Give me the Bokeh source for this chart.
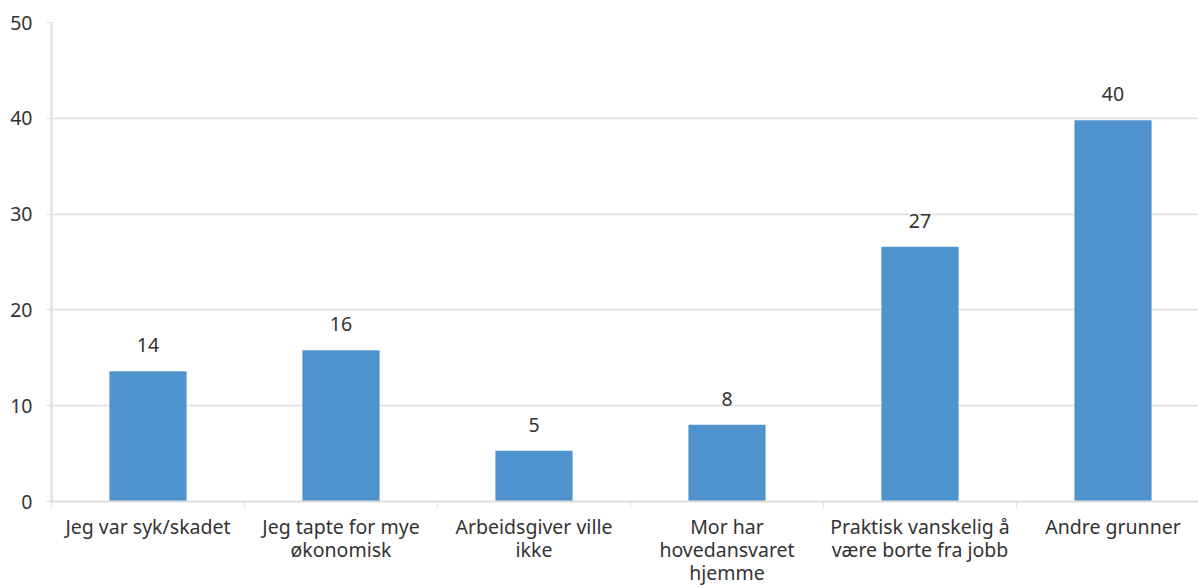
from bokeh.plotting import figure
from bokeh.models import Range1d, FixedTicker, ColumnDataSource
from bokeh.core.properties import value
from bokeh.embed import file_html
from bokeh.resources import INLINE

categories = ["Jeg var syk/skadet", "Jeg tapte for mye\nøkonomisk", "Arbeidsgiver ville\nikke",
              "Mor har\nhovedansvaret\nhjemme", "Praktisk vanskelig å\nvære borte fra jobb", "Andre grunner"]
values = [13.6, 15.8, 5.3, 8.0, 26.6, 39.8]
labels = [str(int(round(v))) for v in values]
y_ticks = [0, 10, 20, 30, 40, 50]

FONT = "Noto Sans"
FS = "19.5px"
TXT = "#333333"
GRID = "#dedede"

xs = [i + 0.5 for i in range(len(categories))]
src = ColumnDataSource(dict(x=xs, top=values, lab=labels))

p = figure(width=1198, height=588, output_backend="svg", toolbar_location=None,
           x_range=Range1d(0, 1147 / 193), y_range=Range1d(0, 50),
           min_border_left=51, min_border_top=22, min_border_bottom=84, min_border_right=0)
p.outline_line_color = None

p.vbar(x="x", top="top", width=0.4, bottom=0, source=src, color="#4F93CE", line_color=None)
p.text(x="x", y="top", text="lab", source=src, text_align="center", text_baseline="alphabetic",
       y_offset=-26, text_font=value(FONT), text_font_size=FS, text_color=TXT)

# x axis
p.xaxis.ticker = FixedTicker(ticks=xs, minor_ticks=list(range(len(categories) + 1)))
p.xaxis.major_label_overrides = {x: c for x, c in zip(xs, categories)}
p.xaxis.major_tick_out = 0
p.xaxis.major_tick_in = 0
p.xaxis.minor_tick_out = 6
p.xaxis.minor_tick_in = 0
p.xaxis.minor_tick_line_color = GRID
p.xaxis.axis_line_color = GRID
p.xaxis.axis_line_width = 2
p.xaxis.major_label_text_font = FONT
p.xaxis.major_label_text_font_size = FS
p.xaxis.major_label_text_color = TXT
p.xaxis.major_label_text_line_height = 0.86
p.xaxis.major_label_standoff = 5
p.xgrid.grid_line_color = None

# y axis
p.yaxis.ticker = FixedTicker(ticks=y_ticks)
p.yaxis.major_tick_out = 5
p.yaxis.major_tick_in = 0
p.yaxis.minor_tick_line_color = None
p.yaxis.major_tick_line_color = GRID
p.yaxis.axis_line_color = GRID
p.yaxis.axis_line_width = 2
p.yaxis.major_label_text_font = FONT
p.yaxis.major_label_text_font_size = FS
p.yaxis.major_label_text_color = TXT
p.yaxis.major_label_standoff = 14
p.ygrid.grid_line_color = GRID
p.ygrid.grid_line_width = 1.5

open("out.html", "w").write(file_html(p, INLINE))
